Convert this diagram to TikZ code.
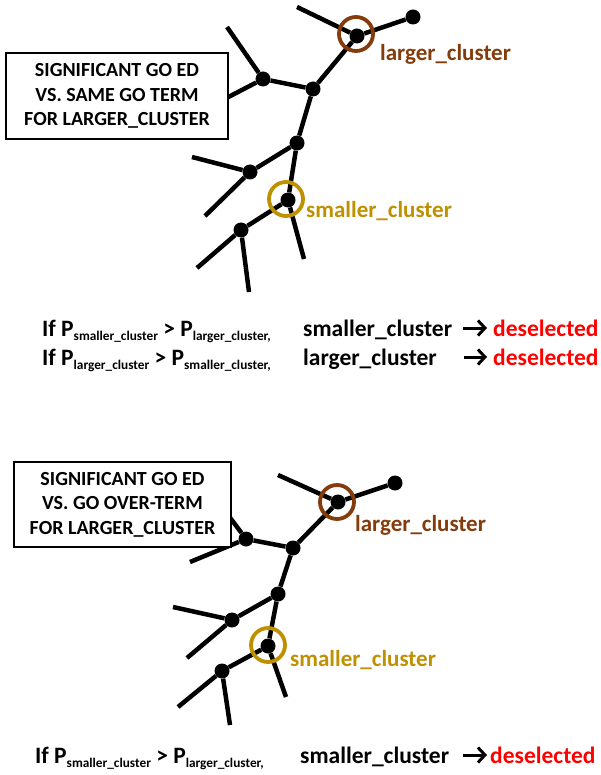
\documentclass[tikz,border=0pt]{standalone}
\usepackage{fontspec}
\setmainfont{Carlito}
\usetikzlibrary{arrows.meta}
\definecolor{brn}{HTML}{843C0C}
\definecolor{gld}{HTML}{BF9000}
\definecolor{rd}{HTML}{FF0000}
\newcommand{\sbs}[1]{\raisebox{-4.5pt}{\fontsize{13.3}{13.3}\selectfont #1}}
\begin{document}
\begin{tikzpicture}[x=1pt,y=-1pt,
  dot/.style={circle,fill=black,inner sep=0pt,minimum size=15pt},
  edge/.style={line width=4.5pt},
  ring/.style={circle,draw,line width=3.8pt,minimum size=34pt,inner sep=0pt},
  lbl/.style={font=\fontsize{23}{23}\selectfont\bfseries,anchor=base west,inner sep=0pt},
  txt/.style={font=\fontsize{23.5}{23.5}\selectfont\bfseries,anchor=base west,inner sep=0pt},
  infobox/.style={draw,line width=2.5pt,fill=white,align=center,inner sep=0pt,
    font=\fontsize{20}{24.5}\selectfont\bfseries},
  arr/.style={line width=3pt,-{Straight Barb[length=7pt,width=15pt]}}
]
\useasboundingbox (0,0) rectangle (601,775);

% ---------- tree 1 ----------
\node[dot] (L1) at (357,36) {};
\node[dot] (T1) at (413,17) {};
\coordinate (e1) at (297,7);
\node[dot] (n2) at (313,89) {};
\node[dot] (n3) at (263,79) {};
\coordinate (e2) at (227,27);
\coordinate (e3) at (215,104);
\node[dot] (n4) at (297,143) {};
\node[dot] (n5) at (250,172) {};
\coordinate (e4) at (192,157);
\coordinate (e5) at (205,216);
\node[dot] (S1) at (288,200) {};
\coordinate (e6) at (304,259);
\node[dot] (n6) at (241,230) {};
\coordinate (e7) at (197,268);
\coordinate (e8) at (249,292);
\draw[edge] (L1) -- (T1);
\draw[edge] (L1) -- (e1);
\draw[edge] (L1) -- (n2);
\draw[edge] (n2) -- (n3);
\draw[edge] (n3) -- (e2);
\draw[edge] (n3) -- (e3);
\draw[edge] (n2) -- (n4);
\draw[edge] (n4) -- (n5);
\draw[edge] (n5) -- (e4);
\draw[edge] (n5) -- (e5);
\draw[edge] (n4) -- (S1);
\draw[edge] (S1) -- (e6);
\draw[edge] (S1) -- (n6);
\draw[edge] (n6) -- (e7);
\draw[edge] (n6) -- (e8);
\node[ring,draw=brn] (R1) at (356,34) {};
\node[ring,draw=gld] (R2) at (286,199) {};
\node[lbl,text=brn] (lab1) at (380,61) {larger\_cluster};
\node[lbl,text=gld] (lab2) at (306,218) {smaller\_cluster};
\node[infobox,minimum width=222pt,minimum height=86pt] (box1) at (117,96)
  {SIGNIFICANT GO ED\\VS. SAME GO TERM\\FOR LARGER\_CLUSTER};

% ---------- rules 1 ----------
\node[txt] (r1a) at (42,336) {If P\sbs{smaller\_cluster} > P\sbs{larger\_cluster,}};
\node[txt] (r1b) at (303,336) {smaller\_cluster};
\coordinate (a1s) at (463,328);
\coordinate (a1e) at (487,328);
\draw[arr] (a1s) -- (a1e);
\node[txt,text=rd] (r1c) at (493,336) {deselected};
\node[txt] (r2a) at (42,365) {If P\sbs{larger\_cluster} > P\sbs{smaller\_cluster,}};
\node[txt] (r2b) at (303,365) {larger\_cluster};
\coordinate (a2s) at (464,357);
\coordinate (a2e) at (487,357);
\draw[arr] (a2s) -- (a2e);
\node[txt,text=rd] (r2c) at (493,365) {deselected};

% ---------- tree 2 ----------
\node[dot] (L2) at (338,502) {};
\node[dot] (T2) at (395,483) {};
\coordinate (f1) at (278,475);
\node[dot] (m2) at (293,548) {};
\node[dot] (m3) at (246,539) {};
\coordinate (f2) at (225,511);
\coordinate (f3) at (190,562);
\node[dot] (m4) at (278,594) {};
\node[dot] (m5) at (232,620) {};
\coordinate (f4) at (173,607);
\coordinate (f5) at (187,658);
\node[dot] (S2) at (268,646) {};
\coordinate (f6) at (286,697);
\node[dot] (m6) at (222,671) {};
\coordinate (f7) at (178,707);
\coordinate (f8) at (230,725);
\draw[edge] (L2) -- (T2);
\draw[edge] (L2) -- (f1);
\draw[edge] (L2) -- (m2);
\draw[edge] (m2) -- (m3);
\draw[edge] (m3) -- (f2);
\draw[edge] (m3) -- (f3);
\draw[edge] (m2) -- (m4);
\draw[edge] (m4) -- (m5);
\draw[edge] (m5) -- (f4);
\draw[edge] (m5) -- (f5);
\draw[edge] (m4) -- (S2);
\draw[edge] (S2) -- (f6);
\draw[edge] (S2) -- (m6);
\draw[edge] (m6) -- (f7);
\draw[edge] (m6) -- (f8);
\node[ring,draw=brn] (R3) at (337,502) {};
\node[ring,draw=gld] (R4) at (268,645) {};
\node[lbl,text=brn] (lab3) at (355,531) {larger\_cluster};
\node[lbl,text=gld] (lab4) at (290,666) {smaller\_cluster};
\node[infobox,minimum width=217pt,minimum height=85pt] (box2) at (122.5,504.5)
  {SIGNIFICANT GO ED\\VS. GO OVER-TERM\\FOR LARGER\_CLUSTER};

% ---------- rule 2 ----------
\node[txt] (r3a) at (35,763) {If P\sbs{smaller\_cluster} > P\sbs{larger\_cluster,}};
\node[txt] (r3b) at (300,763) {smaller\_cluster};
\coordinate (a3s) at (463,755);
\coordinate (a3e) at (487,755);
\draw[arr] (a3s) -- (a3e);
\node[txt,text=rd] (r3c) at (490,763) {deselected};
\end{tikzpicture}
\end{document}
